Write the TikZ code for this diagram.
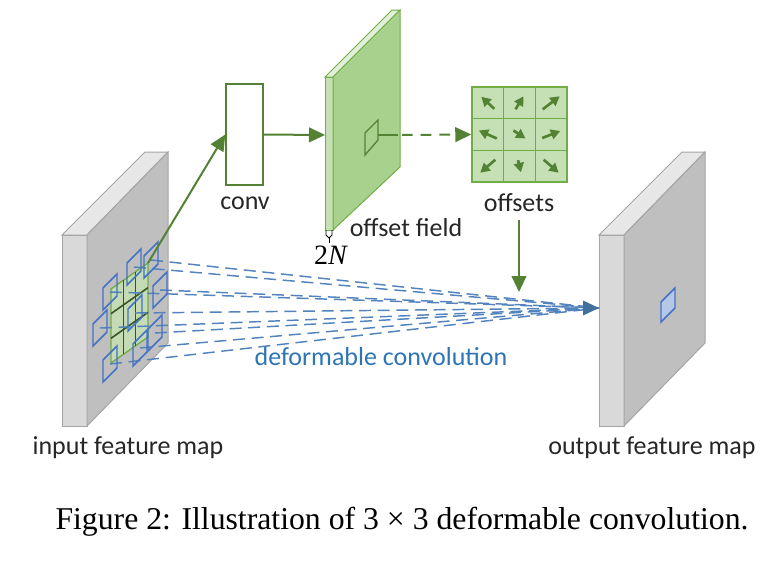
\documentclass[tikz,border=0pt]{standalone}
\usepackage{fontspec}
\setmainfont{Liberation Serif}
\newfontfamily\labelfont{Carlito}
\usetikzlibrary{arrows.meta,calc}

\definecolor{slabgray}{HTML}{BFBFBF}
\definecolor{slablight}{HTML}{D9D9D9}
\definecolor{slabtop}{HTML}{E7E7E7}
\definecolor{edgegray}{HTML}{A5A5A5}
\definecolor{fieldgreen}{HTML}{A9D18E}
\definecolor{fieldlight}{HTML}{C5E0B4}
\definecolor{fieldtop}{HTML}{E2F0D9}
\definecolor{edgegreen}{HTML}{70AD47}
\definecolor{arrowgreen}{HTML}{548235}
\definecolor{darkgreen}{HTML}{375623}
\definecolor{sqblue}{HTML}{4472C4}
\definecolor{sqfill}{HTML}{B4C7E7}
\definecolor{dashblue}{HTML}{5283BD}
\definecolor{tipblue}{HTML}{41719C}
\definecolor{textblue}{HTML}{2E75B6}
\definecolor{labelgray}{HTML}{262626}

\tikzset{
    slabedge/.style={line width=0.75pt, draw=edgegray},
    fieldedge/.style={line width=0.75pt, draw=edgegreen},
    greenline/.style={line width=1.5pt, draw=arrowgreen},
    greenarrow/.style={greenline, -{Triangle[length=12pt,width=11pt]}, arrowgreen},
    offsetarrow/.style={line width=2pt, draw=arrowgreen, -{Triangle[length=7pt,width=7.5pt]}, arrowgreen},
    bluesq/.style={line width=1.1pt, draw=sqblue},
    dashline/.style={line width=1.1pt, draw=dashblue, dash pattern=on 9pt off 5pt},
    convbox/.style={draw=arrowgreen, line width=1.1pt, fill=white, minimum width=27.75pt, minimum height=75.75pt, inner sep=0pt},
    gridbox/.style={draw=edgegreen, line width=1.1pt, fill=fieldlight, minimum size=71.25pt, inner sep=0pt},
    lbl/.style={font=\labelfont\fontsize{19.5}{22}\selectfont, text=labelgray, inner sep=1pt}
}

\begin{document}
\begin{tikzpicture}[x=0.75pt, y=-0.75pt]
\useasboundingbox (0,0) rectangle (783,562);

\foreach \sx in {0,537}{
    \begin{scope}[xshift=\sx*0.75pt]
    \filldraw[slabedge, fill=slablight] (62,235) rectangle (87,426);
    \filldraw[slabedge, fill=slabtop] (62,235) -- (145,152) -- (168,152) -- (87,235) -- cycle;
    \filldraw[slabedge, fill=slabgray] (87,235) -- (168,152) -- (168,343) -- (87,426) -- cycle;
    \end{scope}
}

\coordinate (gTL) at (111,289);
\coordinate (gTR) at (148,263);
\coordinate (gBR) at (148,337);
\coordinate (gBL) at (111,363);
\filldraw[draw=edgegreen, line width=1pt, fill=fieldlight, fill opacity=0.85] (gTL) -- (gTR) -- (gBR) -- (gBL) -- cycle;
\foreach \f in {1/3,2/3}{
    \draw[darkgreen, line width=1.2pt] ($(gTL)!\f!(gTR)$) -- ($(gBL)!\f!(gBR)$);
    \draw[darkgreen, line width=1.2pt] ($(gTL)!\f!(gBL)$) -- ($(gTR)!\f!(gBR)$);
}

\coordinate (outtip) at (599,308);
\foreach \n/\x/\y in {1/151/260, 2/134/267, 3/110/292, 4/160/290, 5/135/313,
    6/100/328, 7/155/333, 8/140/348, 9/110/364}{
    \coordinate (s\n) at (\x,\y);
    \draw[dashline] (s\n) -- (outtip);
}
\draw[tipblue, line width=1.2pt, -{Triangle[length=12pt,width=11pt]}] ($(outtip)+(-14,0)$) -- (outtip);
\foreach \n in {1,...,9}{
    \draw[bluesq] (s\n) ++(-7,-4) -- ++(14,-14) -- ++(0,22) -- ++(-14,14) -- cycle;
}
\filldraw[bluesq, fill=sqfill] (668,305) ++(-7,-3) -- ++(14,-14) -- ++(0,20) -- ++(-14,14) -- cycle;

\node[convbox] (conv) at (244.5,134.5) {};
\node[lbl] (convlbl) at (245,203) {conv};
\draw[greenarrow] (gTR) -- (conv.west);

\filldraw[fieldedge, fill=fieldlight] (325,77) rectangle (333,230);
\filldraw[fieldedge, fill=fieldtop] (325,77) -- (392,10) -- (400,10) -- (333,77) -- cycle;
\filldraw[fieldedge, fill=fieldgreen] (333,77) -- (400,10) -- (400,167) -- (333,230) -- cycle;
\draw[arrowgreen, line width=1pt] (365,133) -- (378,120) -- (378,140) -- (365,155) -- cycle;
\coordinate (fieldfront) at (325,135);
\coordinate (fieldsq) at (378,135);
\draw[greenarrow] (conv.east) -- (fieldfront);

\draw[black, line width=0.6pt] (326,230) -- (326,235) -- (329,238) -- (332,235) -- (332,230);
\draw[black, line width=0.6pt] (329,238) -- (329,243);
\node[font=\fontsize{21}{24}\selectfont, inner sep=0pt] (twoN) at (331,255) {2\textit{N}};
\node[lbl] (fieldlbl) at (406,228) {offset field};

\node[gridbox] (offsets) at (519.5,134.5) {};
\draw[greenline] (fieldsq) -- ++(20,0) coordinate (dashstart);
\draw[greenarrow, dash pattern=on 8pt off 6pt] (dashstart) ++(4,0) -- (offsets.west);
\foreach \f in {1/3,2/3}{
    \draw[edgegreen, line width=1.1pt] ($(offsets.north west)!\f!(offsets.north east)$) -- ($(offsets.south west)!\f!(offsets.south east)$);
    \draw[edgegreen, line width=1.1pt] ($(offsets.north west)!\f!(offsets.south west)$) -- ($(offsets.north east)!\f!(offsets.south east)$);
}
\foreach \cx/\cy/\dx/\dy in {
    487.8/102.8/-13/-12, 519.5/102.8/8/-13, 551.2/102.8/17/-13,
    487.8/134.5/-18/-8, 519.5/134.5/12/8, 551.2/134.5/18/-7,
    487.8/166.2/-15/13, 519.5/166.2/3/12, 551.2/166.2/15/13
}{
    \draw[offsetarrow] (\cx-\dx/2,\cy-\dy/2) -- (\cx+\dx/2,\cy+\dy/2);
}
\node[lbl] (offsetlbl) at (519,203) {offsets};
\coordinate (outpt) at (519,292);
\draw[greenarrow] (offsetlbl.south) ++(0,6) -- (outpt);

\node[lbl, text=textblue] (deflbl) at (381,357) {deformable convolution};
\node[lbl] (inlbl) at (128,448) {input feature map};
\node[lbl] (outlbl) at (652,448) {output feature map};

\node[font=\fontsize{23.8}{28}\selectfont, inner sep=0pt] (caption) at (402,522) {Figure 2: Illustration of 3 × 3 deformable convolution.};
\end{tikzpicture}
\end{document}
